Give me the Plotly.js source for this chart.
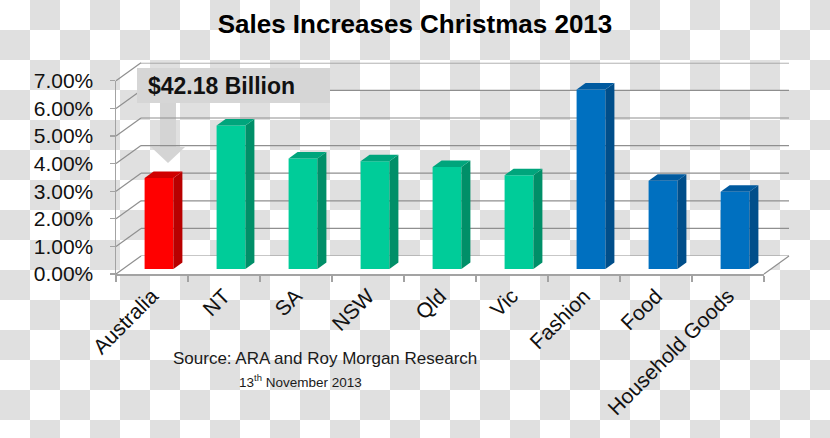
<!DOCTYPE html>
<html>
<head>
<meta charset="utf-8">
<script src="https://cdn.plot.ly/plotly-3.0.1.min.js"></script>
<style>
  html, body { margin:0; padding:0; }
  body {
    width:830px; height:438px; overflow:hidden;
    background: repeating-conic-gradient(#e0e0e0 0 25%, #ffffff 0 50%) 0 0 / 60px 60px;
  }
  #chart { width:830px; height:438px; }
</style>
</head>
<body>
<div id="chart"></div>
<script>
// ---------------- data ----------------
const categories = ["Australia", "NT", "SA", "NSW", "Qld", "Vic", "Fashion", "Food", "Household Goods"];
const salesIncrease = [3.3, 5.2, 4.0, 3.9, 3.7, 3.4, 6.5, 3.2, 2.8];   // percent
const groups = ["total", "state", "state", "state", "state", "state", "sector", "sector", "sector"];
const yTickValues = [0, 1, 2, 3, 4, 5, 6, 7];
const yTickLabels = ["0.00%", "1.00%", "2.00%", "3.00%", "4.00%", "5.00%", "6.00%", "7.00%"];
const chartTitle = "Sales Increases Christmas 2013";
const calloutText = "$42.18 Billion";
const sourceText = "Source: ARA and Roy Morgan Research";
const dateText = "13<sup>th</sup> November 2013";

// ---------------- styling ----------------
const W = 830, H = 438;
const px = x => x / W;
const py = y => 1 - y / H;
const FONT = "Liberation Sans, Arial, sans-serif";
const palette = {
  total:  { front: "#ff0000", side: "#b80000", top: "#d00000" },
  state:  { front: "#00cc99", side: "#008f68", top: "#00a57c" },
  sector: { front: "#0070c0", side: "#004e8a", top: "#005a9f" }
};
const gridColor = "#8f8f8f";
const axisColor = "#a3a3a3";

// geometry (pixels)
const FRONT = { x0: 116, x1: 764, yZero: 274, yTop: 80.8 };
const BACK  = { dx: 25, dy: 18 };
const PLANE = { dx: 7, dy: 5 };
const yMax = 7;
const nCat = categories.length;
const barW = 0.4;
const depthX = 9 / ((FRONT.x1 - FRONT.x0) / nCat);
const depthY = 6.5 / ((FRONT.yZero - FRONT.yTop) / yMax);

// ---------------- traces ----------------
const idx = categories.map((c, i) => i);
const traces = [];
traces.push({
  type: "bar", x: idx, y: salesIncrease, width: barW,
  marker: { color: groups.map(g => palette[g].front), line: { width: 0 } },
  xaxis: "x", yaxis: "y", hoverinfo: "skip", showlegend: false
});
salesIncrease.forEach((v, i) => {
  const c = palette[groups[i]];
  const h = barW / 2;
  traces.push({
    type: "scatter", mode: "lines", fill: "toself", fillcolor: c.side,
    line: { width: 0, color: c.side },
    x: [i + h, i + h + depthX, i + h + depthX, i + h, i + h],
    y: [0, depthY, v + depthY, v, 0],
    xaxis: "x", yaxis: "y", hoverinfo: "skip", showlegend: false
  });
  traces.push({
    type: "scatter", mode: "lines", fill: "toself", fillcolor: c.top,
    line: { width: 0, color: c.top },
    x: [i - h, i + h, i + h + depthX, i - h + depthX, i - h],
    y: [v, v, v + depthY, v + depthY, v],
    xaxis: "x", yaxis: "y", hoverinfo: "skip", showlegend: false
  });
});
// front axes carrier trace
traces.push({ type: "scatter", x: [], y: [], xaxis: "x3", yaxis: "y3", showlegend: false, hoverinfo: "skip" });

// ---------------- shapes ----------------
const shapes = [];
// white floor
const fy = FRONT.yZero, by = FRONT.yZero - BACK.dy;
shapes.push({
  type: "path", xref: "paper", yref: "paper", layer: "below",
  path: `M ${px(FRONT.x0)} ${py(fy)} L ${px(FRONT.x1)} ${py(fy)} L ${px(FRONT.x1 + BACK.dx)} ${py(by)} L ${px(FRONT.x0 + BACK.dx)} ${py(by)} Z`,
  fillcolor: "#ffffff", line: { width: 0 }
});
// callout arrow (below grid)
shapes.push({
  type: "path", xref: "paper", yref: "paper", layer: "below",
  path: `M ${px(160)} ${py(103)} L ${px(176)} ${py(103)} L ${px(176)} ${py(147)} L ${px(185)} ${py(147)} L ${px(168)} ${py(163)} L ${px(151)} ${py(147)} L ${px(160)} ${py(147)} Z`,
  fillcolor: "#d4d4d4", line: { width: 0 }
});
// back wall gridlines and left-wall connectors
const frontScale = (FRONT.yZero - FRONT.yTop) / yMax;
yTickValues.forEach(v => {
  shapes.push({
    type: "line", xref: "x2 domain", yref: "y2", layer: "below",
    x0: 0, x1: 1, y0: v, y1: v, line: { color: gridColor, width: 1.2 }
  });
  const yf = FRONT.yZero - v * frontScale;
  shapes.push({
    type: "line", xref: "paper", yref: "paper", layer: "below",
    x0: px(FRONT.x0), y0: py(yf), x1: px(FRONT.x0 + BACK.dx), y1: py(yf - BACK.dy),
    line: { color: gridColor, width: 1.2 }
  });
});
// right floor edge
shapes.push({
  type: "line", xref: "paper", yref: "paper", layer: "below",
  x0: px(FRONT.x1), y0: py(fy), x1: px(FRONT.x1 + BACK.dx), y1: py(by),
  line: { color: gridColor, width: 1.2 }
});
// callout box
shapes.push({
  type: "rect", xref: "paper", yref: "paper", layer: "above",
  x0: px(137), x1: px(330), y0: py(103), y1: py(68),
  fillcolor: "#d6d6d6", line: { width: 0 }
});

// ---------------- annotations ----------------
const annotations = [
  { text: calloutText, xref: "paper", yref: "paper", x: px(146), y: py(86.5), xanchor: "left", yanchor: "middle",
    showarrow: false, font: { family: FONT, size: 23, color: "#111111", weight: "bold" } },
  { text: sourceText, xref: "paper", yref: "paper", x: px(324.5), y: py(358), xanchor: "center", yanchor: "middle",
    showarrow: false, font: { family: FONT, size: 17, color: "#1a1a1a" } },
  { text: dateText, xref: "paper", yref: "paper", x: px(300), y: py(381), xanchor: "center", yanchor: "middle",
    showarrow: false, font: { family: FONT, size: 13.5, color: "#1a1a1a" } }
];

// ---------------- layout ----------------
const hidden = { visible: false, fixedrange: true };
const layout = {
  width: W, height: H,
  margin: { l: 0, r: 0, t: 0, b: 0 },
  paper_bgcolor: "rgba(0,0,0,0)", plot_bgcolor: "rgba(0,0,0,0)",
  showlegend: false,
  title: { text: chartTitle, x: 0.5, xanchor: "center", y: py(24), yanchor: "middle",
           font: { family: FONT, size: 26, color: "#000000", weight: "bold" } },
  xaxis: Object.assign({}, hidden, { domain: [px(FRONT.x0 + PLANE.dx), px(FRONT.x1 + PLANE.dx)], range: [-0.5, nCat - 0.5], anchor: "y" }),
  yaxis: Object.assign({}, hidden, { domain: [py(FRONT.yZero - PLANE.dy), py(FRONT.yTop - PLANE.dy)], range: [0, yMax], anchor: "x" }),
  xaxis2: Object.assign({}, hidden, { domain: [px(FRONT.x0 + BACK.dx), px(FRONT.x1 + BACK.dx)], range: [-0.5, nCat - 0.5], anchor: "y2" }),
  yaxis2: Object.assign({}, hidden, { domain: [py(FRONT.yZero - BACK.dy), py(FRONT.yTop - BACK.dy)], range: [0, yMax], anchor: "x2" }),
  xaxis3: {
    domain: [px(FRONT.x0), px(FRONT.x1)], range: [-0.5, nCat - 0.5], anchor: "y3",
    showline: true, linecolor: axisColor, linewidth: 1.5, showgrid: false, zeroline: false,
    tickmode: "array", tickvals: idx, ticktext: categories, tickangle: -45, ticks: "",
    tickfont: { family: FONT, size: 21, color: "#111111" },
    minor: { tickmode: "array", tickvals: idx.concat([nCat]).map(i => i - 0.5), ticks: "outside", ticklen: 6, tickcolor: axisColor, tickwidth: 1.2, showgrid: false },
    fixedrange: true
  },
  yaxis3: {
    domain: [py(FRONT.yZero), py(FRONT.yTop)], range: [0, yMax], anchor: "x3",
    showline: true, linecolor: axisColor, linewidth: 1.5, showgrid: false, zeroline: false,
    tickmode: "array", tickvals: yTickValues, ticktext: yTickLabels,
    ticks: "outside", ticklen: 5, tickcolor: axisColor, tickwidth: 1.2, ticklabelstandoff: 12,
    tickfont: { family: FONT, size: 21, color: "#111111" },
    fixedrange: true
  },
  shapes: shapes,
  annotations: annotations
};

Plotly.newPlot("chart", traces, layout, { staticPlot: true, displayModeBar: false });
</script>
</body>
</html>
